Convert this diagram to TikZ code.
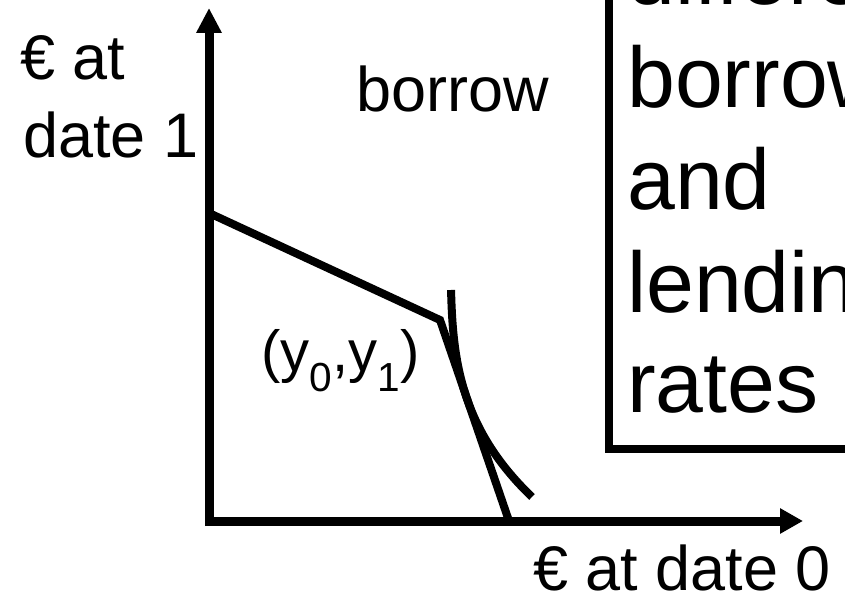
\documentclass[tikz,border=0pt]{standalone}
\usepackage{fontspec}
\setmainfont{Liberation Sans}
\usetikzlibrary{arrows.meta}
\tikzset{
  axisline/.style={line width=9pt},
  curveline/.style={line width=8pt, line join=miter},
  boxline/.style={line width=8pt},
  lbl/.style={inner sep=0pt, anchor=base west, font=\fontsize{63}{75}\selectfont},
  boxtxt/.style={inner sep=0pt, anchor=base west, font=\fontsize{86}{103}\selectfont},
}
\begin{document}
\begin{tikzpicture}[x=1pt,y=1pt]
\path[use as bounding box] (0,0) rectangle (845,613);
\clip (0,0) rectangle (845,613);
% coordinates
\coordinate (Ostart) at (209,87);
\coordinate (Xstart) at (205,92);
\coordinate (ytip) at (209,605);
\coordinate (xtip) at (803,92);
\coordinate (A) at (209,400);
\coordinate (K) at (440,293);
\coordinate (B) at (509,92);
% axes
\draw[axisline, -{Triangle[length=25pt,width=24pt]}] (Ostart) -- (ytip);
\draw[axisline, -{Triangle[length=23pt,width=24pt]}] (Xstart) -- (xtip);
% budget line with kink
\draw[curveline] (A) -- (K) -- (B);
% indifference curve, tangent to the lower segment
\draw[curveline, line join=round] plot[smooth, domain=-1.08:0.99, samples=50, variable=\u]
  ({440 + 0.342*(100*\u+78) + 25.5*\u*\u + 6.7*\u*\u*\u}, {215-100*\u});
% box
\draw[boxline] (609,164) rectangle (900,700);
\node[boxtxt] (t1) at (627,608) {different};
\node[boxtxt] (t2) at (627,505) {borrowing};
\node[boxtxt] (t3) at (627,403) {and};
\node[boxtxt] (t4) at (627,300) {lending};
\node[boxtxt] (t5) at (627,200) {rates};
% labels
\node[lbl] (ya1) at (20,533) {€ at};
\node[lbl] (ya2) at (23,455) {date 1};
\node[lbl] (bor) at (356,501) {borrow};
\node[lbl] (xa) at (533,23) {€ at date 0};
\node[lbl, font=\fontsize{58}{70}\selectfont] (pt) at (261,241) {(y\textsubscript{0},y\textsubscript{1})};
\end{tikzpicture}
\end{document}
